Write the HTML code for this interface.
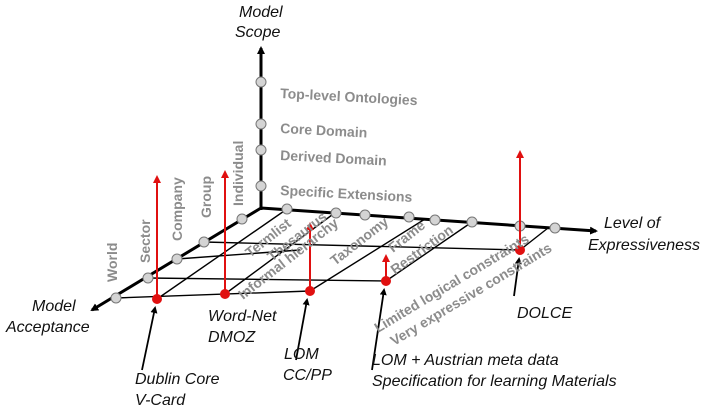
<!DOCTYPE html>
<html><head><meta charset="utf-8"><style>
html,body{margin:0;padding:0;background:#fff;}
svg{display:block;}
.g{font-family:"Liberation Sans",sans-serif;font-weight:bold;fill:#8c8c8c;font-size:14px;}
.b{font-family:"Liberation Sans",sans-serif;font-style:italic;fill:#111;font-size:16px;}
</style></head><body>
<svg width="712" height="418" viewBox="0 0 712 418" xmlns="http://www.w3.org/2000/svg">
<defs>
<marker id="ab" markerWidth="8" markerHeight="8" refX="6" refY="4" orient="auto" markerUnits="userSpaceOnUse"><path d="M0,0 L8,4 L0,8 z" fill="#000"/></marker>
<marker id="ar" markerWidth="8" markerHeight="8" refX="6" refY="4" orient="auto" markerUnits="userSpaceOnUse"><path d="M0,0 L8,4 L0,8 z" fill="#e01010"/></marker>
<marker id="as" markerWidth="7" markerHeight="7" refX="5" refY="3.5" orient="auto" markerUnits="userSpaceOnUse"><path d="M0,0 L7,3.5 L0,7 z" fill="#000"/></marker>
</defs>
<g stroke="#000" stroke-width="1.4" fill="none">
<line x1="116" y1="298" x2="310" y2="291"/>
<line x1="148" y1="278" x2="386" y2="281"/>
<line x1="177" y1="259" x2="300" y2="250"/>
<line x1="204" y1="242" x2="520" y2="250"/>
<line x1="287" y1="209" x2="157" y2="299"/>
<line x1="336" y1="212" x2="225" y2="294"/>
<line x1="425" y1="219" x2="310" y2="291"/>
<line x1="472" y1="222" x2="386" y2="281"/>
<line x1="548" y1="228" x2="520" y2="250"/>
</g>
<g stroke="#000" stroke-width="3" fill="none">
<line x1="261" y1="210" x2="261" y2="48" marker-end="url(#ab)"/>
<line x1="261" y1="208" x2="596" y2="231" marker-end="url(#ab)"/>
<line x1="261" y1="208" x2="92" y2="310" marker-end="url(#ab)"/>
</g>
<g fill="#d4d4d4" stroke="#777" stroke-width="1">
<circle cx="261" cy="82" r="5"/><circle cx="261" cy="124" r="5"/><circle cx="261" cy="150" r="5"/><circle cx="261" cy="186" r="5"/>
<circle cx="116" cy="298" r="5"/><circle cx="148" cy="278" r="5"/><circle cx="177" cy="259" r="5"/><circle cx="204" cy="242" r="5"/><circle cx="242" cy="219" r="5"/>
<circle cx="287" cy="209" r="5"/><circle cx="336" cy="213" r="5"/><circle cx="365" cy="215" r="5"/><circle cx="409" cy="217" r="5"/><circle cx="435" cy="220" r="5"/><circle cx="472" cy="222" r="5"/><circle cx="520" cy="226" r="5"/><circle cx="555" cy="228" r="5"/>
</g>
<g stroke="#e01010" stroke-width="2" fill="none">
<line x1="157" y1="299" x2="157" y2="177" marker-end="url(#ar)"/>
<line x1="225" y1="294" x2="225" y2="172" marker-end="url(#ar)"/>
<line x1="310" y1="291" x2="310" y2="224" marker-end="url(#ar)"/>
<line x1="386" y1="281" x2="386" y2="256" marker-end="url(#ar)"/>
<line x1="520" y1="250" x2="520" y2="152" marker-end="url(#ar)"/>
</g>
<g fill="#e01010"><circle cx="157" cy="299" r="5"/><circle cx="225" cy="294" r="5"/><circle cx="310" cy="291" r="5"/><circle cx="386" cy="281" r="5"/><circle cx="520" cy="250" r="5"/></g>
<g stroke="#000" stroke-width="1.8">
<line x1="142" y1="370" x2="155" y2="308" marker-end="url(#as)"/>
<line x1="296" y1="360" x2="307" y2="300" marker-end="url(#as)"/>
<line x1="372" y1="370" x2="384" y2="290" marker-end="url(#as)"/>
<line x1="514" y1="296" x2="519" y2="259" marker-end="url(#as)"/>
</g>
<g class="g">
<text x="280" y="98" transform="rotate(3 280 98)">Top-level Ontologies</text>
<text x="280" y="133" transform="rotate(3 280 133)">Core Domain</text>
<text x="280" y="160" transform="rotate(3 280 160)">Derived Domain</text>
<text x="280" y="195" transform="rotate(3 280 195)">Specific Extensions</text>
<text x="117" y="282" transform="rotate(-90 117 282)">World</text>
<text x="150" y="263" transform="rotate(-90 150 263)">Sector</text>
<text x="182" y="241" transform="rotate(-90 182 241)">Company</text>
<text x="211" y="218" transform="rotate(-90 211 218)">Group</text>
<text x="243" y="206" transform="rotate(-90 243 206)">Individual</text>
<text x="250" y="258" transform="rotate(-38 250 258)">Termlist</text>
<text x="272" y="262" transform="rotate(-38 272 262)">Thesaurus</text>
<text x="243" y="300" transform="rotate(-38 243 300)">Informal hierarchy</text>
<text x="335" y="266" transform="rotate(-38 335 266)">Taxonomy</text>
<text x="393" y="253" transform="rotate(-38 393 253)">Frame</text>
<text x="395" y="275" transform="rotate(-36 395 275)">Restriction</text>
<text x="378" y="333" transform="rotate(-31 378 333)">Limited logical constraints</text>
<text x="394" y="346" transform="rotate(-31 394 346)">Very expressive constraints</text>
</g>
<g class="b">
<text x="239" y="17">Model</text><text x="235" y="37">Scope</text>
<text x="604" y="228">Level of</text><text x="588" y="250">Expressiveness</text>
<text x="32" y="311">Model</text><text x="6" y="332">Acceptance</text>
<text x="208" y="321">Word-Net</text><text x="208" y="342">DMOZ</text>
<text x="517" y="318">DOLCE</text>
<text x="135" y="384">Dublin Core</text><text x="135" y="405">V-Card</text>
<text x="284" y="359">LOM</text><text x="283" y="380">CC/PP</text>
<text x="372" y="365">LOM + Austrian meta data</text><text x="372" y="386">Specification for learning Materials</text>
</g>
</svg>
</body></html>
